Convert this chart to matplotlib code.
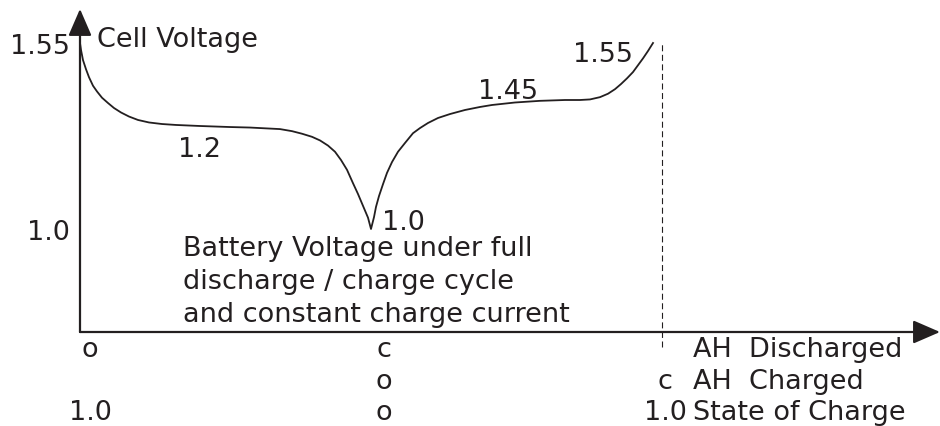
import numpy as np
import matplotlib
matplotlib.use("Agg")
import matplotlib.pyplot as plt

INK = "#231f20"
plt.rcParams["font.family"] = ["DejaVu Sans"]
FS = 19.5

# Voltage axis is schematic: piecewise scale so the labelled levels sit where drawn
V_ANCHOR = [0.40, 0.69, 1.0, 1.2, 1.45, 1.55, 1.70]
H_ANCHOR = [0, 94, 197, 300, 326, 383, 427]


def v_to_h(v):
    return np.interp(v, V_ANCHOR, H_ANCHOR)


def h_to_v(h):
    return np.interp(h, H_ANCHOR, V_ANCHOR)


# Discharge branch (x in units of rated capacity c, voltage in V)
ah_discharge = [0.0, 0.0034, 0.0103, 0.0206, 0.0309, 0.0447, 0.0584, 0.0756,
                0.0962, 0.1168, 0.1409, 0.1684, 0.1993, 0.2371, 0.2818, 0.3299,
                0.4124, 0.5155, 0.5842, 0.6873, 0.7285, 0.7629, 0.7973, 0.8247,
                0.8522, 0.8763, 0.8969, 0.9175, 0.9381, 0.9553, 0.9725, 0.9897,
                1.0]
v_discharge = [1.55, 1.538, 1.520, 1.504, 1.490, 1.475, 1.465, 1.454,
               1.421, 1.373, 1.330, 1.291, 1.258, 1.234, 1.219, 1.210,
               1.200, 1.198, 1.197, 1.194, 1.190, 1.185, 1.179, 1.172,
               1.162, 1.150, 1.134, 1.115, 1.089, 1.068, 1.045, 1.022,
               1.0]

# Charge branch
ah_charge = [1.0, 1.0103, 1.0172, 1.0275, 1.0412, 1.0550, 1.0722, 1.0928,
             1.1168, 1.1443, 1.1684, 1.1959, 1.2302, 1.2715, 1.3230, 1.3746,
             1.4158, 1.4948, 1.5808, 1.6667, 1.7182, 1.7526, 1.7869, 1.8144,
             1.8385, 1.8591, 1.8797, 1.9003, 1.9175, 1.9347, 1.9519, 1.9691]
v_charge = [1.0, 1.023, 1.043, 1.064, 1.087, 1.109, 1.130, 1.150,
            1.167, 1.186, 1.196, 1.229, 1.277, 1.315, 1.354, 1.383,
            1.402, 1.426, 1.442, 1.45, 1.45, 1.451, 1.455, 1.461,
            1.469, 1.478, 1.488, 1.499, 1.511, 1.523, 1.536, 1.55]

ytick_values = [1.0, 1.55]
ytick_labels = ["1.0", "1.55"]

# Bottom scale rows: label per capacity mark (0, c, 2c)
row_positions = [0, 1, 2]
row_discharged = ["o", "c", ""]
row_charged = ["", "o", "c"]
row_soc = ["1.0", "o", "1.0"]
row_names = ["AH  Discharged", "AH  Charged", "State of Charge"]

fig = plt.figure(figsize=(9.4, 4.27), dpi=100)
ax = fig.add_axes([0, 0, 1, 1])
ax.set_yscale("function", functions=(v_to_h, h_to_v))
ax.set_xlim(-80 / 291, 860 / 291)
ax.set_ylim(0.40, 1.70)

# y tick labels sit beside the vertical axis line at x = 0
for side in ["top", "right", "bottom", "left"]:
    ax.spines[side].set_visible(False)
ax.spines["left"].set_position(("data", 0))
ax.set_xticks([])
ax.set_yticks(ytick_values)
ax.set_yticklabels(ytick_labels)
ax.tick_params(axis="y", length=0, pad=7, labelsize=FS, labelcolor=INK)
ax.yaxis.set_minor_locator(matplotlib.ticker.NullLocator())

# Axes drawn as arrows
arrow_kw = dict(arrowstyle="-|>,head_length=0.83,head_width=0.36",
                mutation_scale=20, lw=1.6, color=INK,
                shrinkA=0, shrinkB=0)
ax.annotate("", xy=(860 / 291, 0.69), xytext=(0, 0.69),
            arrowprops=arrow_kw, annotation_clip=False)
ax.annotate("", xy=(0, 1.666), xytext=(0, 0.69),
            arrowprops=arrow_kw, annotation_clip=False)

# Discharge / charge cycle curve
ax.plot(ah_discharge + ah_charge[1:], v_discharge + v_charge[1:],
        color=INK, lw=1.3, solid_joinstyle="round")

# End of charge marker at 2c
ax.vlines(2.0, 0.644, 1.552, colors=INK, lw=0.8, linestyles=(0, (5.4, 3.2)))

txt = dict(fontsize=FS, color=INK)
ax.annotate("Cell Voltage", xy=(0, 1.55), xytext=(17, -3),
            textcoords="offset pixels", ha="left", va="baseline", **txt)
ax.annotate("1.2", xy=(0.41, 1.2), xytext=(0, -30),
            textcoords="offset pixels", ha="center", va="baseline", **txt)
ax.annotate("1.0", xy=(1.0, 1.0), xytext=(11, 0),
            textcoords="offset pixels", ha="left", va="baseline", **txt)
ax.annotate("1.45", xy=(1.47, 1.45), xytext=(0, 2),
            textcoords="offset pixels", ha="center", va="baseline", **txt)
ax.annotate("1.55", xy=(ah_charge[-1], v_charge[-1]), xytext=(-20, -18),
            textcoords="offset pixels", ha="right", va="baseline", **txt)

ax.text(103 / 291, 1 - 322 / 427,
        "Battery Voltage under full\ndischarge / charge cycle\nand constant charge current",
        transform=ax.get_xaxis_transform(), ha="left", va="baseline",
        linespacing=1.36, **txt)

# Scale rows beneath the horizontal axis
xt = ax.get_xaxis_transform()
row_baselines = [1 - 357 / 427, 1 - 389 / 427, 1 - 420 / 427]
col_shift = [10, 13, 3]
for labels, yb in zip([row_discharged, row_charged, row_soc], row_baselines):
    for xpos, lab, sh in zip(row_positions, labels, col_shift):
        if lab:
            ax.annotate(lab, xy=(xpos, yb), xycoords=xt, xytext=(sh, 0),
                        textcoords="offset pixels", ha="center",
                        va="baseline", **txt)
for name, yb in zip(row_names, row_baselines):
    ax.text(613 / 291, yb, name, transform=xt, ha="left", va="baseline", **txt)

fig.savefig("out.png", dpi=100)
